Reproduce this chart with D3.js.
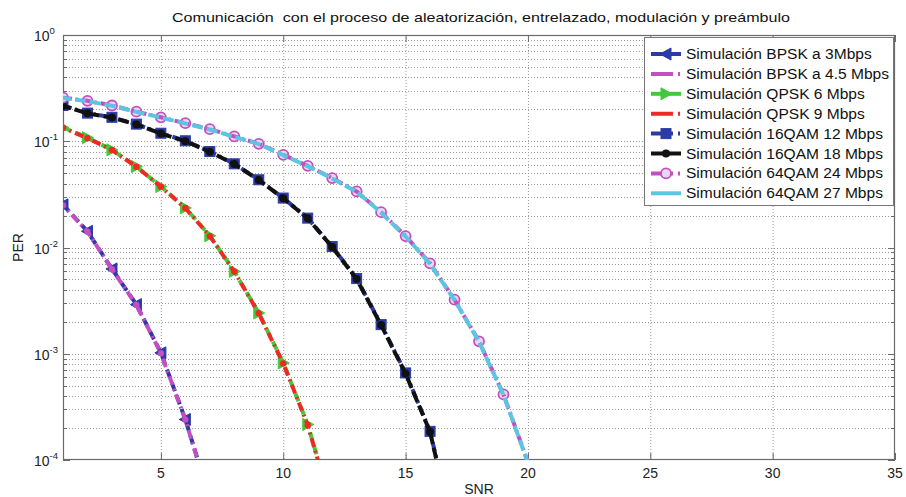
<!DOCTYPE html>
<html>
<head>
<meta charset="utf-8">
<script src="https://cdn.jsdelivr.net/npm/d3@7"></script>
<style>
  html, body { margin: 0; padding: 0; background: #fff; }
  svg { display: block; font-family: "Liberation Sans", Arial, sans-serif; }
  .pre { white-space: pre; }
</style>
</head>
<body>
<svg id="chart" width="906" height="497"></svg>
<script>
// ---- data ----
const titleText = "Comunicación  con el proceso de aleatorización, entrelazado, modulación y preámbulo";
const xLabel = "SNR";
const yLabel = "PER";
const xTicks = [5, 10, 15, 20, 25, 30, 35];
const yTickExps = [0, -1, -2, -3, -4];

const snrBPSK = [1, 2, 3, 4, 5, 6, 7];
const perBPSK3 = [0.0252, 0.0142, 0.00628, 0.0029, 0.00102, 2.41e-4, 4.3e-5];
const perBPSK45 = [0.0250, 0.0141, 0.00625, 0.00288, 0.00101, 2.40e-4, 4.2e-5];

const snrQPSK = [1, 2, 3, 4, 5, 6, 7, 8, 9, 10, 11, 12];
const perQPSK6 = [0.1345, 0.108, 0.083, 0.0578, 0.0375, 0.0236, 0.0129, 0.00596, 0.00242, 8.2e-4, 2.16e-4, 3.5e-5];
const perQPSK9 = [0.1340, 0.107, 0.0828, 0.0575, 0.0373, 0.0235, 0.0128, 0.00594, 0.00240, 8.1e-4, 2.14e-4, 3.4e-5];

const snr16QAM = [1, 2, 3, 4, 5, 6, 7, 8, 9, 10, 11, 12, 13, 14, 15, 16, 17];
const per16QAM12 = [0.217, 0.184, 0.168, 0.145, 0.119, 0.101, 0.080, 0.0613, 0.0434, 0.0292, 0.0189, 0.0102, 0.0051, 0.00188, 6.6e-4, 1.86e-4, 1.9e-5];
const per16QAM18 = [0.215, 0.183, 0.167, 0.144, 0.118, 0.100, 0.0795, 0.0610, 0.0432, 0.0290, 0.0188, 0.0101, 0.00505, 0.00186, 6.5e-4, 1.84e-4, 1.8e-5];

const snr64QAM = [1, 2, 3, 4, 5, 6, 7, 8, 9, 10, 11, 12, 13, 14, 15, 16, 17, 18, 19, 20];
const per64QAM24 = [0.257, 0.240, 0.217, 0.190, 0.168, 0.148, 0.130, 0.111, 0.0946, 0.0745, 0.0587, 0.045, 0.0337, 0.0215, 0.0128, 0.0071, 0.00323, 0.00131, 4.14e-4, 9.5e-5];
const per64QAM27 = [0.255, 0.238, 0.216, 0.189, 0.167, 0.147, 0.129, 0.110, 0.0940, 0.0740, 0.0583, 0.0447, 0.0335, 0.0213, 0.0127, 0.0070, 0.00320, 0.00130, 4.10e-4, 9.4e-5];

const seriesNames = [
  "Simulación BPSK a 3Mbps",
  "Simulación BPSK a 4.5 Mbps",
  "Simulación QPSK 6 Mbps",
  "Simulación QPSK 9 Mbps",
  "Simulación 16QAM 12 Mbps",
  "Simulación 16QAM 18 Mbps",
  "Simulación 64QAM 24 Mbps",
  "Simulación 64QAM 27 Mbps"
];

// ---- styles ----
const C = {
  blue: "#2a3aa6", magenta: "#c44ec2", green: "#42c93a",
  red: "#ee2a24", black: "#111111", cyan: "#5cc6e2"
};
const series = [
  { name: seriesNames[0], x: snrBPSK, y: perBPSK3,   color: C.blue,    dash: "9,5",     dashOff: 0, legendDash: null,       marker: "triLeft" },
  { name: seriesNames[1], x: snrBPSK, y: perBPSK45,  color: C.magenta, dash: "9,4,2,4", dashOff: 6, legendDash: "22,5,2,4", marker: "dot" },
  { name: seriesNames[2], x: snrQPSK, y: perQPSK6,   color: C.green,   dash: "9,5",     dashOff: 0, legendDash: null,       marker: "triRight" },
  { name: seriesNames[3], x: snrQPSK, y: perQPSK9,   color: C.red,     dash: "9,4,2,4", dashOff: 6, legendDash: "22,5,2,4", marker: "dot" },
  { name: seriesNames[4], x: snr16QAM, y: per16QAM12, color: C.blue,   dash: "9,4,2,4", dashOff: 0, legendDash: "22,5,2,4", marker: "square" },
  { name: seriesNames[5], x: snr16QAM, y: per16QAM18, color: C.black,  dash: "11,4",    dashOff: 3, legendDash: null,       marker: "bigdot" },
  { name: seriesNames[6], x: snr64QAM, y: per64QAM24, color: C.magenta, dash: "9,4,2,4", dashOff: 0, legendDash: "22,5,2,4", marker: "circle" },
  { name: seriesNames[7], x: snr64QAM, y: per64QAM27, color: C.cyan,   dash: "11,4",    dashOff: 3, legendDash: null,       marker: null }
];

// ---- layout ----
const svg = d3.select("#chart");
const L = 63, R = 895, T = 35, B = 460;
const x = d3.scaleLinear().domain([1, 35]).range([L, R]);
const y = d3.scaleLog().domain([1e-4, 1]).range([B, T]);
const gridColor = "#9a9a9a";
const axisColor = "#6a6a6a";
const textStretch = 1.11;   // slightly wide lettering

// stretch a text element horizontally by a factor of its natural width
function stretch(sel, k) {
  const w = sel.node().getComputedTextLength();
  sel.attr("textLength", w * k).attr("lengthAdjust", "spacingAndGlyphs");
}

svg.append("rect").attr("x", L).attr("y", T).attr("width", R - L).attr("height", B - T).attr("fill", "#fff");

// grid: vertical at x ticks, horizontal at every log tick (major + minor)
const grid = svg.append("g").attr("stroke", gridColor).attr("stroke-width", 1).attr("stroke-dasharray", "1,2");
xTicks.filter(t => t < 35).forEach(t => {
  grid.append("line").attr("x1", x(t) + 0.5).attr("x2", x(t) + 0.5).attr("y1", T).attr("y2", B);
});
const logTicks = [];
for (let e = -4; e < 0; e++) for (let m = 1; m <= 9; m++) logTicks.push(m * Math.pow(10, e));
logTicks.filter(v => v > 1e-4).forEach(v => {
  grid.append("line").attr("x1", L).attr("x2", R).attr("y1", Math.round(y(v)) + 0.5).attr("y2", Math.round(y(v)) + 0.5);
});

// axis ticks (inward, mirrored on opposite sides)
const ticks = svg.append("g").attr("stroke", axisColor).attr("stroke-width", 1);
xTicks.forEach(t => {
  ticks.append("line").attr("x1", x(t) + 0.5).attr("x2", x(t) + 0.5).attr("y1", B).attr("y2", B - 7);
  ticks.append("line").attr("x1", x(t) + 0.5).attr("x2", x(t) + 0.5).attr("y1", T).attr("y2", T + 7);
});
logTicks.concat([1]).forEach(v => {
  const len = Math.abs(Math.log10(v) - Math.round(Math.log10(v))) < 1e-9 ? 7 : 4;
  const yy = Math.round(y(v)) + 0.5;
  ticks.append("line").attr("x1", L).attr("x2", L + len).attr("y1", yy).attr("y2", yy);
  ticks.append("line").attr("x1", R).attr("x2", R - len).attr("y1", yy).attr("y2", yy);
});

// box
svg.append("rect").attr("x", L + 0.5).attr("y", T + 0.5).attr("width", R - L - 1).attr("height", B - T - 1)
  .attr("fill", "none").attr("stroke", axisColor).attr("stroke-width", 1.2);

// tick labels
const xl = svg.append("g").attr("font-size", 14).attr("fill", "#222").attr("text-anchor", "middle");
xTicks.forEach(t => xl.append("text").attr("x", x(t)).attr("y", 478).text(t));

const yl = svg.append("g").attr("fill", "#222");
yTickExps.forEach(e => {
  const t = yl.append("text").attr("x", 34).attr("y", y(Math.pow(10, e)) + 6).attr("font-size", 14);
  t.append("tspan").text("10");
  t.append("tspan").attr("dy", -7).attr("font-size", 9.5).text(String(e));
});

// labels and title
svg.append("text").attr("x", (L + R) / 2).attr("y", 494).attr("text-anchor", "middle").attr("font-size", 14).attr("fill", "#222").text(xLabel);
svg.append("text").attr("transform", `translate(23,${(T + B) / 2}) rotate(-90)`).attr("text-anchor", "middle").attr("font-size", 14).attr("fill", "#222").text(yLabel);
const title = svg.append("text").attr("class", "pre").attr("x", 481).attr("y", 22).attr("text-anchor", "middle")
  .attr("font-size", 13.5).attr("fill", "#111").text(titleText);
title.attr("textLength", 618).attr("lengthAdjust", "spacingAndGlyphs");

// clip for curves
svg.append("clipPath").attr("id", "plotclip").append("rect").attr("x", L).attr("y", T).attr("width", R - L).attr("height", B - T);

const line = d3.line().x(d => x(d[0])).y(d => y(d[1]));

function drawMarker(g, kind, cx, cy, color) {
  if (kind === "triLeft") {
    g.append("path").attr("d", `M${cx - 6},${cy} L${cx + 5},${cy - 6} L${cx + 5},${cy + 6} Z`)
      .attr("fill", color).attr("stroke", color).attr("stroke-width", 1);
  } else if (kind === "triRight") {
    g.append("path").attr("d", `M${cx + 6},${cy} L${cx - 5},${cy - 6} L${cx - 5},${cy + 6} Z`)
      .attr("fill", color).attr("stroke", color).attr("stroke-width", 1);
  } else if (kind === "square") {
    g.append("rect").attr("x", cx - 5).attr("y", cy - 5).attr("width", 10).attr("height", 10)
      .attr("fill", color).attr("stroke", color).attr("stroke-width", 1);
  } else if (kind === "circle") {
    g.append("circle").attr("cx", cx).attr("cy", cy).attr("r", 5).attr("fill", "#e8d8f0")
      .attr("stroke", color).attr("stroke-width", 1.8);
  } else if (kind === "dot") {
    g.append("circle").attr("cx", cx).attr("cy", cy).attr("r", 3.2).attr("fill", color);
  } else if (kind === "bigdot") {
    g.append("circle").attr("cx", cx).attr("cy", cy).attr("r", 4).attr("fill", color);
  }
}

const plot = svg.append("g").attr("clip-path", "url(#plotclip)");
series.forEach(s => {
  const pts = s.x.map((v, i) => [v, s.y[i]]);
  const g = plot.append("g");
  const visible = pts.filter(p => p[1] >= 1e-4 && p[1] <= 1);
  // hollow circles sit under their line; filled shapes go on top
  if (s.marker === "circle") visible.forEach(p => drawMarker(g, s.marker, x(p[0]), y(p[1]), s.color));
  g.append("path").datum(pts).attr("d", line).attr("fill", "none")
    .attr("stroke", s.color).attr("stroke-width", 4)
    .attr("stroke-dasharray", s.dash).attr("stroke-dashoffset", s.dashOff)
    .attr("stroke-linejoin", "round");
  if (s.marker && s.marker !== "circle") visible.forEach(p => drawMarker(g, s.marker, x(p[0]), y(p[1]), s.color));
});

// legend
const lg = svg.append("g");
const LX = 644, LY = 37, LW = 249, LH = 168;
lg.append("rect").attr("x", LX + 0.5).attr("y", LY + 0.5).attr("width", LW).attr("height", LH)
  .attr("fill", "#fff").attr("stroke", "#777").attr("stroke-width", 1);
series.forEach((s, i) => {
  const cy = 54 + i * 19.9;
  const row = lg.append("g");
  row.append("line").attr("x1", 651).attr("x2", 681).attr("y1", cy).attr("y2", cy)
    .attr("stroke", s.color).attr("stroke-width", 4)
    .attr("stroke-dasharray", s.legendDash);
  if (s.marker && s.marker !== "dot") drawMarker(row, s.marker, 666, cy, s.color);
  const t = row.append("text").attr("x", 686).attr("y", cy + 5).attr("font-size", 14).attr("fill", "#111").text(s.name);
  stretch(t, textStretch);
});
</script>
</body>
</html>
